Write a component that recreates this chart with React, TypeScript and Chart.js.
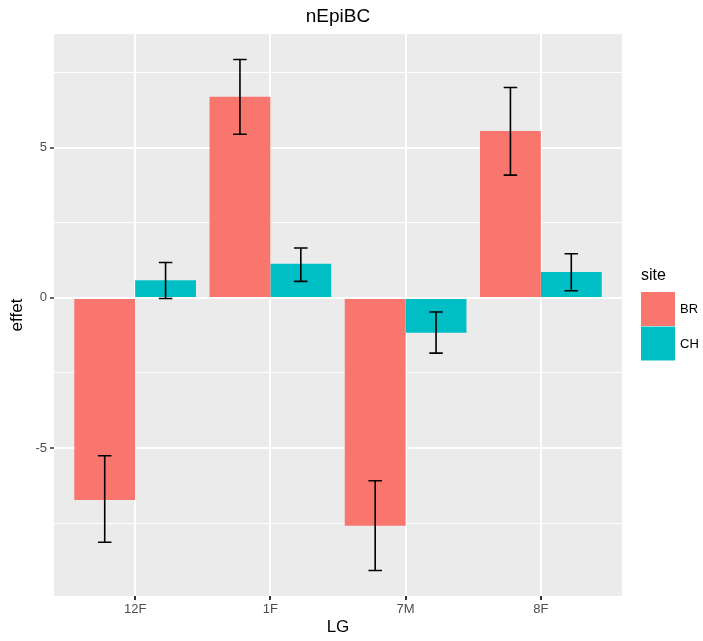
import React, { useEffect, useRef } from "react";
import { Chart, registerables } from "chart.js";

Chart.register(...registerables);

const categories = ["12F", "1F", "7M", "8F"];
const seriesNames = ["BR", "CH"];
const brValues = [-6.73, 6.7, -7.59, 5.56];
const chValues = [0.59, 1.14, -1.16, 0.86];
const brLower = [-8.14, 5.45, -9.08, 4.09];
const brUpper = [-5.26, 7.94, -6.09, 7.01];
const chLower = [-0.02, 0.55, -1.84, 0.24];
const chUpper = [1.18, 1.66, -0.47, 1.47];
const yTicks = [-7.5, -5, -2.5, 0, 2.5, 5, 7.5];

const colors = ["#F8766D", "#00BFC4"];
const FONT = "'Liberation Sans', Arial, Helvetica, sans-serif";

const W = 703;
const H = 641;
const AREA = { left: 54, top: 34, right: 622, bottom: 596 };

export default function App() {
  const ref = useRef<HTMLCanvasElement | null>(null);

  useEffect(() => {
    document.body.style.margin = "0";
    const canvas = ref.current;
    if (!canvas) return;

    const lowers = [brLower, chLower];
    const uppers = [brUpper, chUpper];

    const panelPlugin = {
      id: "panel",
      beforeDraw(chart: any) {
        const { ctx, chartArea } = chart;
        ctx.save();
        ctx.fillStyle = "#FFFFFF";
        ctx.fillRect(0, 0, chart.width, chart.height);
        ctx.fillStyle = "#EBEBEB";
        ctx.fillRect(chartArea.left, chartArea.top, chartArea.right - chartArea.left, chartArea.bottom - chartArea.top);
        ctx.restore();
      },
    };

    const extrasPlugin = {
      id: "extras",
      afterDatasetsDraw(chart: any) {
        const { ctx, scales } = chart;
        const xs = scales.x;
        const ys = scales.y;
        const capHalf = Math.abs(xs.getPixelForValue(1.05) - xs.getPixelForValue(1));
        ctx.save();
        ctx.strokeStyle = "#000000";
        ctx.lineWidth = 1.6;
        chart.data.datasets.forEach((ds: any, di: number) => {
          const meta = chart.getDatasetMeta(di);
          meta.data.forEach((bar: any, i: number) => {
            const x = bar.x;
            const yl = ys.getPixelForValue(lowers[di][i]);
            const yu = ys.getPixelForValue(uppers[di][i]);
            ctx.beginPath();
            ctx.moveTo(x, yl);
            ctx.lineTo(x, yu);
            ctx.moveTo(x - capHalf, yl);
            ctx.lineTo(x + capHalf, yl);
            ctx.moveTo(x - capHalf, yu);
            ctx.lineTo(x + capHalf, yu);
            ctx.stroke();
          });
        });
        ctx.restore();
      },
      afterDraw(chart: any) {
        const { ctx, chartArea, scales } = chart;
        ctx.save();
        // x tick marks
        ctx.fillStyle = "#333333";
        categories.forEach((_, i) => {
          const x = scales.x.getPixelForValue(i + 1);
          ctx.fillRect(Math.round(x) - 1, AREA.bottom, 2, 4);
        });

        ctx.fillStyle = "#000000";
        ctx.textAlign = "center";
        ctx.textBaseline = "middle";
        const cx = (chartArea.left + chartArea.right) / 2;
        ctx.font = `19px ${FONT}`;
        ctx.fillText("nEpiBC", cx, 17);
        ctx.font = `17px ${FONT}`;
        ctx.fillText("LG", cx, 627);
        ctx.save();
        ctx.translate(17, (chartArea.top + chartArea.bottom) / 2);
        ctx.rotate(-Math.PI / 2);
        ctx.fillText("effet", 0, 0);
        ctx.restore();

        // legend
        ctx.textAlign = "left";
        ctx.font = `16px ${FONT}`;
        ctx.fillText("site", 641, 276);
        const boxX = 641;
        const boxW = 34;
        const boxTops = [292, 326.5];
        const boxH = 34;
        seriesNames.forEach((name, i) => {
          ctx.fillStyle = colors[i];
          ctx.fillRect(boxX, boxTops[i], boxW, boxH);
          ctx.fillStyle = "#000000";
          ctx.font = `13px ${FONT}`;
          ctx.fillText(name, 680, boxTops[i] + boxH / 2 + 0.5);
        });
        ctx.restore();
      },
    };

    const chart = new Chart(canvas, {
      type: "bar",
      data: {
        datasets: [
          {
            label: seriesNames[0],
            data: categories.map((_, i) => ({ x: i + 1, y: brValues[i] })),
            backgroundColor: colors[0],
            borderWidth: 0,
            categoryPercentage: 0.9,
            barPercentage: 1,
          },
          {
            label: seriesNames[1],
            data: categories.map((_, i) => ({ x: i + 1, y: chValues[i] })),
            backgroundColor: colors[1],
            borderWidth: 0,
            categoryPercentage: 0.9,
            barPercentage: 1,
          },
        ],
      },
      options: {
        responsive: false,
        animation: false,
        devicePixelRatio: 1,
        layout: {
          padding: { left: 0, top: AREA.top, right: W - AREA.right, bottom: 0 },
        },
        plugins: {
          legend: { display: false },
          title: { display: false },
          tooltip: { enabled: false },
        },
        scales: {
          x: {
            type: "linear",
            min: 0.4,
            max: 4.6,
            offset: false,
            afterFit(scale: any) {
              scale.height = H - AREA.bottom;
            },
            afterBuildTicks(scale: any) {
              scale.ticks = categories.map((_, i) => ({ value: i + 1 }));
            },
            border: { display: false },
            grid: {
              offset: false,
              color: "#FFFFFF",
              lineWidth: 2,
              drawTicks: true,
              tickLength: 4,
              tickColor: "#333333",
              tickWidth: 1.5,
            },
            ticks: {
              autoSkip: false,
              maxRotation: 0,
              padding: 2,
              color: "#4D4D4D",
              font: { family: FONT, size: 13 },
              callback: (v: any) => categories[Math.round(Number(v)) - 1] ?? "",
            },
          },
          y: {
            type: "linear",
            min: -9.93,
            max: 8.79,
            afterFit(scale: any) {
              scale.width = AREA.left;
            },
            afterBuildTicks(scale: any) {
              scale.ticks = yTicks.map((v) => ({ value: v }));
            },
            border: { display: false },
            grid: {
              offset: false,
              color: "#FFFFFF",
              lineWidth: (c: any) => (Number.isInteger(c.tick?.value) ? 2 : 1),
              drawTicks: true,
              tickLength: 4,
              tickColor: (c: any) => (Number.isInteger(c.tick?.value) ? "#333333" : "rgba(0,0,0,0)"),
              tickWidth: 1.5,
            },
            ticks: {
              autoSkip: false,
              padding: 3,
              color: "#4D4D4D",
              font: { family: FONT, size: 13 },
              callback: (v: any) => (Number.isInteger(Number(v)) ? String(v) : ""),
            },
          },
        },
      },
      plugins: [panelPlugin, extrasPlugin],
    } as any);

    return () => chart.destroy();
  }, []);

  return (
    <div style={{ width: W, height: H, position: "relative" }}>
      <canvas ref={ref} width={W} height={H} style={{ display: "block", width: W, height: H }} />
    </div>
  );
}
